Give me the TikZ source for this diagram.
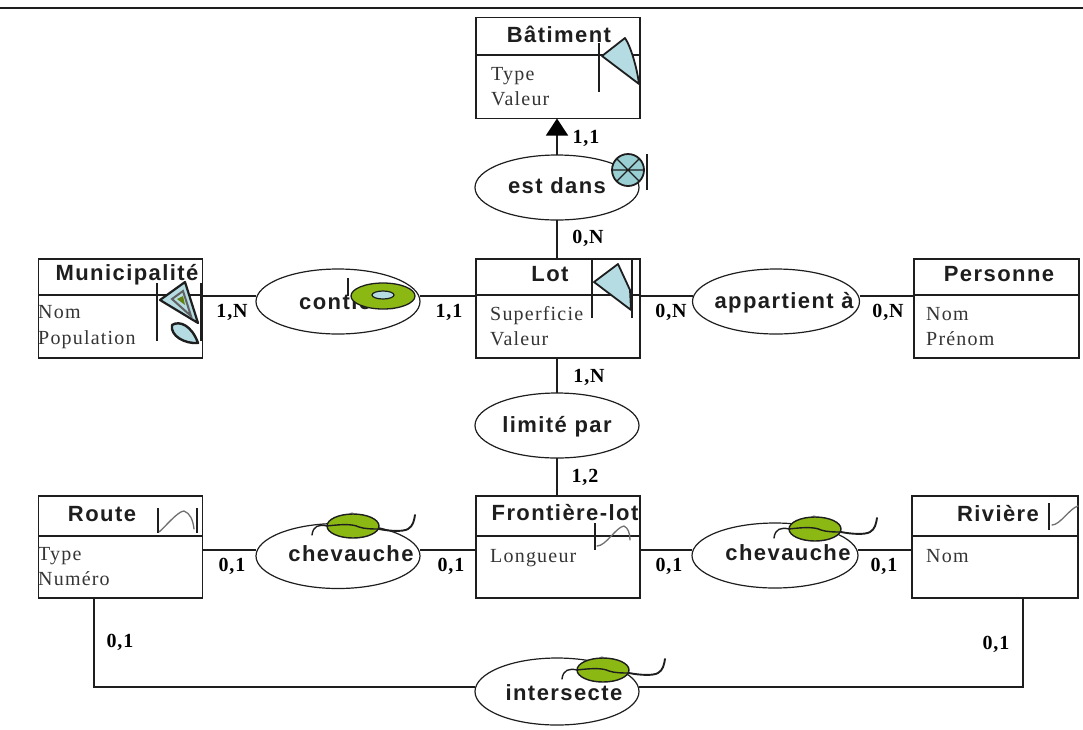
\documentclass[tikz,border=0pt]{standalone}
\usepackage{fontspec}
\usetikzlibrary{shapes.geometric,arrows.meta,calc}
\newfontfamily\ttlfont[LetterSpace=6.5]{Liberation Sans}
\newfontfamily\attrfont[LetterSpace=6,Ligatures=NoCommon]{Liberation Serif}
\newfontfamily\cardfont[LetterSpace=4]{Liberation Serif}
\definecolor{ink}{HTML}{1E1E1E}
\definecolor{iceblue}{HTML}{B4DCE2}
\definecolor{leafgreen}{HTML}{8CB814}
\definecolor{curvegray}{HTML}{707070}
\tikzset{
  entity/.style={draw=ink,line width=1.5pt,rectangle,inner sep=0pt,outer sep=0pt,minimum width=164pt,minimum height=100pt,fill=white},
  assoc/.style={draw=ink,line width=1.2pt,ellipse,inner sep=0pt,outer sep=0pt,minimum width=164pt,minimum height=65pt,fill=white},
  link/.style={draw=ink,line width=1.4pt},
  divider/.style={draw=ink,line width=1.5pt},
  title/.style={anchor=base,inner sep=0pt,text=ink,font=\ttlfont\bfseries\fontsize{22}{26}\selectfont},
  attr/.style={anchor=base west,inner sep=0pt,text=ink!90,font=\attrfont\fontsize{20}{24}\selectfont},
  card/.style={inner sep=0pt,text=black,font=\cardfont\bfseries\fontsize{20}{24}\selectfont},
  tick/.style={draw=ink,line width=1.2pt},
  iconedge/.style={draw=ink,line width=1.8pt,line join=round,fill=iceblue},
  curveline/.style={draw=curvegray,line width=1.3pt,line cap=round},
  leafglyph/.pic={
    \fill[gray!50] (-1,-12) circle (2);
    \draw[ink,line width=1.4pt,fill=leafgreen] (0,0) ellipse (26 and 12);
    \draw[ink,line width=1.4pt,line cap=round] (-41,9) .. controls (-40,0) and (-34,-2) .. (-26,0)
       .. controls (-10,-2) and (0,-2) .. (6,1) .. controls (12,3) and (20,3) .. (26,3);
    \draw[ink,line width=1.9pt,line cap=round] (26,3)
       .. controls (36,5) and (50,6) .. (55,3) .. controls (60,0) and (61,-5) .. (62,-11);
  }
}
\begin{document}
\begin{tikzpicture}[x=1pt,y=-1pt]
\useasboundingbox (0,0) rectangle (1083,729);
\coordinate (topL) at (0,8);
\coordinate (topR) at (1083,8);
\draw[ink,line width=2pt] (topL) -- (topR);

\coordinate (rowA) at (0,296);
\coordinate (rowB) at (0,550);
\coordinate (rowC) at (0,687);
\coordinate (colRoute) at (94,0);
\coordinate (colRiv) at (1023,0);

\node[entity,minimum height=101pt] (bat) at (558,68) {};
\node[entity,minimum height=99pt] (lot) at (558,308.5) {};
\node[entity,minimum height=99pt] (mun) at (120.5,308.5) {};
\node[entity,minimum width=165pt,minimum height=99pt] (per) at (996.5,308.5) {};
\node[entity,minimum height=102pt] (fro) at (558,547) {};
\node[entity,minimum height=102pt] (rou) at (120.5,547) {};
\node[entity,minimum width=166pt,minimum height=102pt] (riv) at (995,547) {};

\node[assoc] (estdans) at (557,187.5) {};
\node[assoc] (contient) at (338,301.5) {};
\node[assoc,minimum width=167pt] (appart) at (776,301.5) {};
\node[assoc] (limite) at (557,425.5) {};
\node[assoc] (chev1) at (338,556) {};
\node[assoc,minimum width=166pt] (chev2) at (775,555.5) {};
\node[assoc,minimum height=67pt] (inter) at (557,691.5) {};

\draw[link,-{Triangle[length=17pt,width=22pt,color=black]}] (estdans.north) -- (estdans.north |- bat.south);
\draw[link] (estdans.south) -- (estdans.south |- lot.north);
\draw[link] (mun.east |- rowA) -- (contient.west |- rowA);
\draw[link] (contient.east |- rowA) -- (lot.west |- rowA);
\draw[link] (lot.east |- rowA) -- (appart.west |- rowA);
\draw[link] (appart.east |- rowA) -- (per.west |- rowA);
\draw[link] (limite.north) -- (limite.north |- lot.south);
\draw[link] (limite.south) -- (limite.south |- fro.north);
\draw[link] (rou.east |- rowB) -- (chev1.west |- rowB);
\draw[link] (chev1.east |- rowB) -- (fro.west |- rowB);
\draw[link] (fro.east |- rowB) -- (chev2.west |- rowB);
\draw[link] (chev2.east |- rowB) -- (riv.west |- rowB);
\draw[link] (colRoute |- rou.south) -- (colRoute |- rowC) -- (inter.west |- rowC);
\draw[link] (colRiv |- riv.south) -- (colRiv |- rowC) -- (inter.east |- rowC);

% dividers
\coordinate (divTop) at (0,55);
\coordinate (divMid) at (0,295);
\coordinate (divBot) at (0,536);
\draw[divider] (bat.west |- divTop) -- (bat.east |- divTop);
\draw[divider] (lot.west |- divMid) -- (lot.east |- divMid);
\draw[divider] (mun.west |- divMid) -- (mun.east |- divMid);
\draw[divider] (per.west |- divMid) -- (per.east |- divMid);
\draw[divider] (fro.west |- divBot) -- (fro.east |- divBot);
\draw[divider] (rou.west |- divBot) -- (rou.east |- divBot);
\draw[divider] (riv.west |- divBot) -- (riv.east |- divBot);
\draw[ink,line width=2.4pt] (lot.west |- divMid) -- ++(14,0);

% entity titles
\node[title] (tBat) at (559,42) {Bâtiment};
\node[title] (tMun) at (127,280) {Municipalité};
\node[title] (tLot) at (550,281) {Lot};
\node[title] (tPer) at (999,281) {Personne};
\node[title] (tRou) at (102,521) {Route};
\node[title] (tFro) at (565,520) {Frontière-lot};
\node[title] (tRiv) at (998,521) {Rivière};

% attributes
\node[attr] (a1) at (491,80) {Type};
\node[attr] (a2) at (491,105) {Valeur};
\node[attr] (a3) at (38,318) {Nom};
\node[attr] (a4) at (38,344) {Population};
\node[attr] (a5) at (490,320) {Superficie};
\node[attr] (a6) at (490,345) {Valeur};
\node[attr] (a7) at (926,320) {Nom};
\node[attr] (a8) at (926,345) {Prénom};
\node[attr] (a9) at (38,560) {Type};
\node[attr] (a10) at (38,585) {Numéro};
\node[attr] (a11) at (490,562) {Longueur};
\node[attr] (a12) at (926,562) {Nom};

% association labels
\node[title] (lEst) at (557,193) {est dans};
\node[title] (lCon) at (347,309) {contient};
\node[title] (lApp) at (784,308) {appartient à};
\node[title] (lLim) at (557,432) {limité par};
\node[title] (lCh1) at (351,561) {chevauche};
\node[title] (lCh2) at (788,560) {chevauche};
\node[title] (lInt) at (564,700) {intersecte};

% cardinalities
\node[card] (c1) at (586,138) {1,1};
\node[card] (c2) at (588,238) {0,N};
\node[card] (c3) at (232,312) {1,N};
\node[card] (c4) at (449,312) {1,1};
\node[card] (c5) at (671,312) {0,N};
\node[card] (c6) at (888,312) {0,N};
\node[card] (c7) at (589,377) {1,N};
\node[card] (c8) at (585,477) {1,2};
\node[card] (c9) at (232,566) {0,1};
\node[card] (c10) at (451,566) {0,1};
\node[card] (c11) at (669,566) {0,1};
\node[card] (c12) at (884,566) {0,1};
\node[card] (c13) at (120,642) {0,1};
\node[card] (c14) at (996,644) {0,1};

% Bâtiment polygon icon
\draw[tick] (599,43) -- (599,92);
\draw[iconedge] (602,56) -- (625,38) .. controls (631,47) and (637,68) .. (639,84) -- cycle;
% est dans point-set icon
\draw[tick] (647,154) -- (647,190);
\draw[ink,line width=1.8pt,fill=iceblue!85!teal] (628,170) circle (16);
\draw[ink,line width=1.3pt] (612,170) -- (644,170) (617,159) -- (639,181) (617,181) -- (639,159);
% Lot polygon icon
\draw[tick] (592,259) -- (592,318);
\draw[tick] (632,259) -- (632,318);
\draw[iconedge] (594,282) -- (618,264) -- (630,290) -- (631,310) -- cycle;
% Municipalité multipolygon icon
\draw[tick] (157,283) -- (157,341);
\draw[tick] (201,283) -- (201,341);
\draw[iconedge,line width=2.2pt] (160,300) -- (185,282) -- (198,323) -- cycle;
\draw[draw=ink!70,line width=2pt,fill=iceblue] (172,299) -- (183,291) -- (191,316) -- cycle;
\fill[leafgreen!70!black] (177,299) -- (183,296) -- (185,305) -- cycle;
\draw[iconedge,line width=2.4pt] (172,325) .. controls (180,320) and (192,326) .. (198,343) .. controls (185,344) and (170,336) .. (172,325) -- cycle;
% contient disc icon
\draw[tick] (348,278) -- (348,296);
\draw[ink,line width=1.3pt,fill=leafgreen] (383,296) ellipse (32 and 13);
\draw[ink,line width=1.2pt,fill=iceblue] (383,295) ellipse (11 and 4);
% line icons
\draw[tick] (158,508) -- (158,533);
\draw[tick] (197,508) -- (197,533);
\draw[curveline] (159,532) .. controls (165,527) and (178,511) .. (184,511) .. controls (190,513) and (193,520) .. (194,529);
\draw[tick] (595,523) -- (595,550);
\draw[curveline] (597,546) .. controls (606,546) and (616,527) .. (624,526) .. controls (628,528) and (630,533) .. (630,540);
\draw[tick] (1049,503) -- (1049,530);
\draw[curveline] (1052,525) .. controls (1060,525) and (1070,508) .. (1078,506);
% leaf icons
\pic at (353,526) {leafglyph};
\pic at (815,529) {leafglyph};
\pic at (603,670) {leafglyph};
\end{tikzpicture}
\end{document}
